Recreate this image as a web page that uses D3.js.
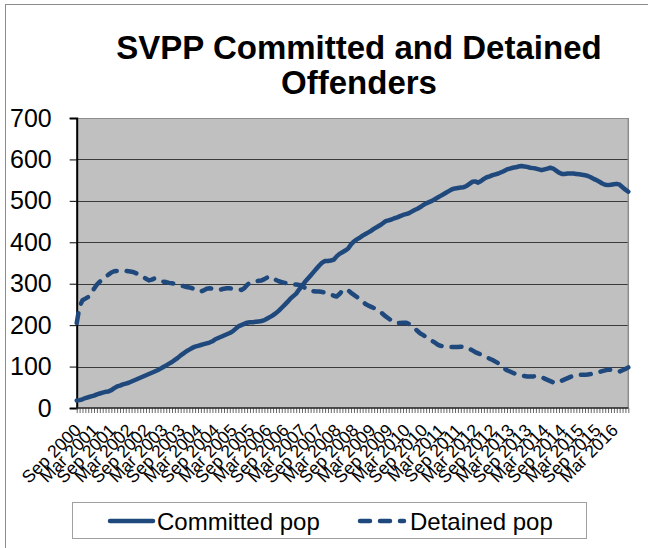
<!DOCTYPE html>
<html>
<head>
<meta charset="utf-8">
<script src="https://d3js.org/d3.v7.min.js"></script>
<style>
  body { margin: 0; background: #fff; }
  text { font-family: "Liberation Sans", Arial, sans-serif; }
</style>
</head>
<body>
<script>

  // monthly values, Sep 2000 .. Aug 2016
  var committed = [
    18, 19, 21, 24, 26, 28, 30, 33, 35, 37, 39, 40,
    43, 48, 52, 54, 57, 59, 61, 64, 67, 70, 73, 76,
    79, 82, 85, 88, 91, 95, 99, 103, 107, 111, 116, 121,
    127, 132, 137, 141, 145, 148, 150, 152, 154, 156, 158, 161,
    166, 169, 172, 175, 178, 181, 185, 191, 197, 200, 203, 206,
    207, 207, 208, 209, 210, 212, 216, 220, 224, 229, 235, 242,
    249, 256, 264, 270, 276, 286, 295, 304, 312, 320, 328, 336,
    344, 351, 355, 355, 356, 358, 366, 372, 376, 380, 385, 395,
    402, 407, 411, 416, 420, 424, 428, 433, 437, 441, 446, 451,
    453, 455, 458, 460, 463, 466, 468, 470, 474, 478, 481, 485,
    490, 494, 497, 500, 504, 508, 512, 516, 520, 524, 528, 530,
    531, 532, 533, 536, 541, 546, 547, 544, 548, 553, 557, 559,
    562, 564, 566, 569, 572, 576, 578, 580, 581, 583, 584, 583,
    582, 580, 579, 578, 576, 574, 576, 578, 580, 578, 573, 568,
    565, 565, 566, 566, 566, 565, 564, 563, 562, 560, 557, 553,
    550, 546, 542, 539, 538, 539, 540, 541, 539, 533, 527, 522
  ];

  var detained = [
    205, 245, 260, 264, 268, 275, 288, 298, 305, 310, 316, 322,
    327, 330, 331, 331, 331, 331, 330, 329, 327, 324, 321, 317,
    312, 308, 310, 313, 311, 307, 305, 304, 302, 301, 300, 298,
    296, 294, 292, 291, 289, 287, 284, 281, 284, 288, 289, 288,
    286, 285, 286, 288, 289, 289, 288, 287, 286, 285, 289, 297,
    303, 305, 306, 307, 308, 311, 315, 317, 314, 309, 306, 304,
    302, 301, 300, 299, 298, 297, 296, 290, 285, 283, 282, 281,
    281, 280, 279, 277, 274, 271, 269, 275, 284, 287, 284, 278,
    273, 268, 263, 257, 251, 247, 244, 241, 238, 233, 227, 221,
    216, 211, 206, 205, 205, 206, 206, 203, 197, 192, 186, 180,
    176, 171, 166, 162, 158, 153, 150, 149, 148, 147, 147, 147,
    147, 148, 148, 147, 143, 139, 135, 132, 129, 126, 122, 119,
    116, 112, 108, 102, 96, 91, 88, 85, 82, 80, 78, 77,
    76, 76, 76, 77, 77, 75, 71, 68, 65, 62, 60, 62,
    66, 69, 72, 75, 78, 79, 80, 80, 80, 81, 82, 84,
    85, 87, 89, 91, 93, 92, 90, 88, 88, 91, 94, 98
  ];

  // every 6th month gets a label
  var tickLabels = [
    "Sep 2000", "Mar 2001", "Sep 2001", "Mar 2002", "Sep 2002", "Mar 2003",
    "Sep 2003", "Mar 2004", "Sep 2004", "Mar 2005", "Sep 2005", "Mar 2006",
    "Sep 2006", "Mar 2007", "Sep 2007", "Mar 2008", "Sep 2008", "Mar 2009",
    "Sep 2009", "Mar 2010", "Sep 2010", "Mar 2011", "Sep 2011", "Mar 2012",
    "Sep 2012", "Mar 2013", "Sep 2013", "Mar 2014", "Sep 2014", "Mar 2015",
    "Sep 2015", "Mar 2016"
  ];
  var yTicks = [0, 100, 200, 300, 400, 500, 600, 700];
  var seriesNames = ["Committed pop", "Detained pop"];

  var W = 648, H = 548;
  var margin = {top: 118, right: 20, bottom: 140, left: 76.7},
      width = 628.3 - margin.left,
      height = 408 - margin.top;

  var blue = "#1f497d";

  var svg = d3.select("body").append("svg")
    .attr("width", W)
    .attr("height", H);

  // outer chart frame
  svg.append("rect")
    .attr("x", 5.5).attr("y", 4.5)
    .attr("width", 720).attr("height", 600)
    .attr("fill", "#fff")
    .attr("stroke", "#8c8c8c");

  // title
  var title = svg.append("text")
    .attr("text-anchor", "middle")
    .style("font-size", "33px")
    .style("font-weight", "bold");
  title.append("tspan").attr("x", 359).attr("y", 59).text("SVPP Committed and Detained");
  title.append("tspan").attr("x", 359).attr("y", 94).text("Offenders");

  var x = d3.scaleLinear()
    .domain([0, committed.length - 1])
    .range([0, width]);

  var y = d3.scaleLinear()
    .domain([0, 700])
    .range([height, 0]);

  var g = svg.append("g")
    .attr("transform", "translate(" + margin.left + "," + margin.top + ")");

  g.append("rect")
    .attr("width", width).attr("height", height)
    .attr("fill", "#c0c0c0");

  // gridlines
  g.selectAll(".grid")
    .data(yTicks.slice(1))
    .enter().append("line")
    .attr("x1", 0).attr("x2", width)
    .attr("y1", function(d) { return Math.round(y(d)) + 0.5; })
    .attr("y2", function(d) { return Math.round(y(d)) + 0.5; })
    .attr("stroke", function(d) { return d == 700 ? "#8c8c8c" : "#3a3a3a"; })
    .attr("stroke-width", 1.2);

  // right border
  g.append("line")
    .attr("x1", width).attr("x2", width)
    .attr("y1", 0).attr("y2", height)
    .attr("stroke", "#8c8c8c").attr("stroke-width", 1.5);

  // y axis
  var yAxis = g.append("g")
    .call(d3.axisLeft(y).tickValues(yTicks).tickSize(7).tickPadding(18));
  yAxis.select(".domain").attr("stroke", "#000").attr("stroke-width", 2);
  yAxis.selectAll(".tick line").attr("stroke", "#000");
  yAxis.selectAll("text")
    .style("font-size", "25px")
    .attr("fill", "#000");

  // minor month ticks
  var minor = g.append("g")
    .attr("transform", "translate(0," + height + ")")
    .call(d3.axisBottom(x).tickValues(d3.range(committed.length)).tickSize(5).tickFormat(""));
  minor.select(".domain").remove();
  minor.selectAll(".tick line").attr("stroke", "#666");

  // x axis line
  g.append("line")
    .attr("x1", 0).attr("x2", width)
    .attr("y1", height).attr("y2", height)
    .attr("stroke", "#222").attr("stroke-width", 1.5);

  // labels every 6 months
  g.selectAll(".xlab")
    .data(tickLabels)
    .enter().append("text")
    .attr("class", "xlab")
    .attr("transform", function(d, i) {
      return "translate(" + (x(i * 6) + 1) + "," + (height + 19) + ") rotate(-45)";
    })
    .attr("text-anchor", "end")
    .attr("dy", "0.35em")
    .style("font-size", "17.5px")
    .text(function(d) { return d; });

  var line = d3.line()
    .x(function(d, i) { return x(i); })
    .y(function(d) { return y(d); });

  g.append("path")
    .datum(committed)
    .attr("d", line)
    .attr("fill", "none")
    .attr("stroke", blue)
    .attr("stroke-width", 4.5)
    .attr("stroke-linejoin", "round")
    .attr("stroke-linecap", "round");

  g.append("path")
    .datum(detained)
    .attr("d", line)
    .attr("fill", "none")
    .attr("stroke", blue)
    .attr("stroke-width", 4.5)
    .attr("stroke-dasharray", "10,10")
    .attr("stroke-linejoin", "round")
    .attr("stroke-linecap", "round");

  // legend
  var legend = svg.append("g");
  legend.append("rect")
    .attr("x", 72.5).attr("y", 502.5)
    .attr("width", 514).attr("height", 36)
    .attr("fill", "#fff")
    .attr("stroke", "#a0a0a0");

  var items = [
    {name: seriesNames[0], x0: 110, x1: 153, dash: null, tx: 157},
    {name: seriesNames[1], x0: 360, x1: 404, dash: "10,10", tx: 410}
  ];
  var li = legend.selectAll(".item")
    .data(items)
    .enter().append("g");
  li.append("line")
    .attr("x1", function(d) { return d.x0; })
    .attr("x2", function(d) { return d.x1; })
    .attr("y1", 521).attr("y2", 521)
    .attr("stroke", blue)
    .attr("stroke-width", 4.5)
    .attr("stroke-linecap", "round")
    .attr("stroke-dasharray", function(d) { return d.dash; });
  li.append("text")
    .attr("x", function(d) { return d.tx; })
    .attr("y", 529.5)
    .style("font-size", "24px")
    .text(function(d) { return d.name; });

</script>
</body>
</html>
